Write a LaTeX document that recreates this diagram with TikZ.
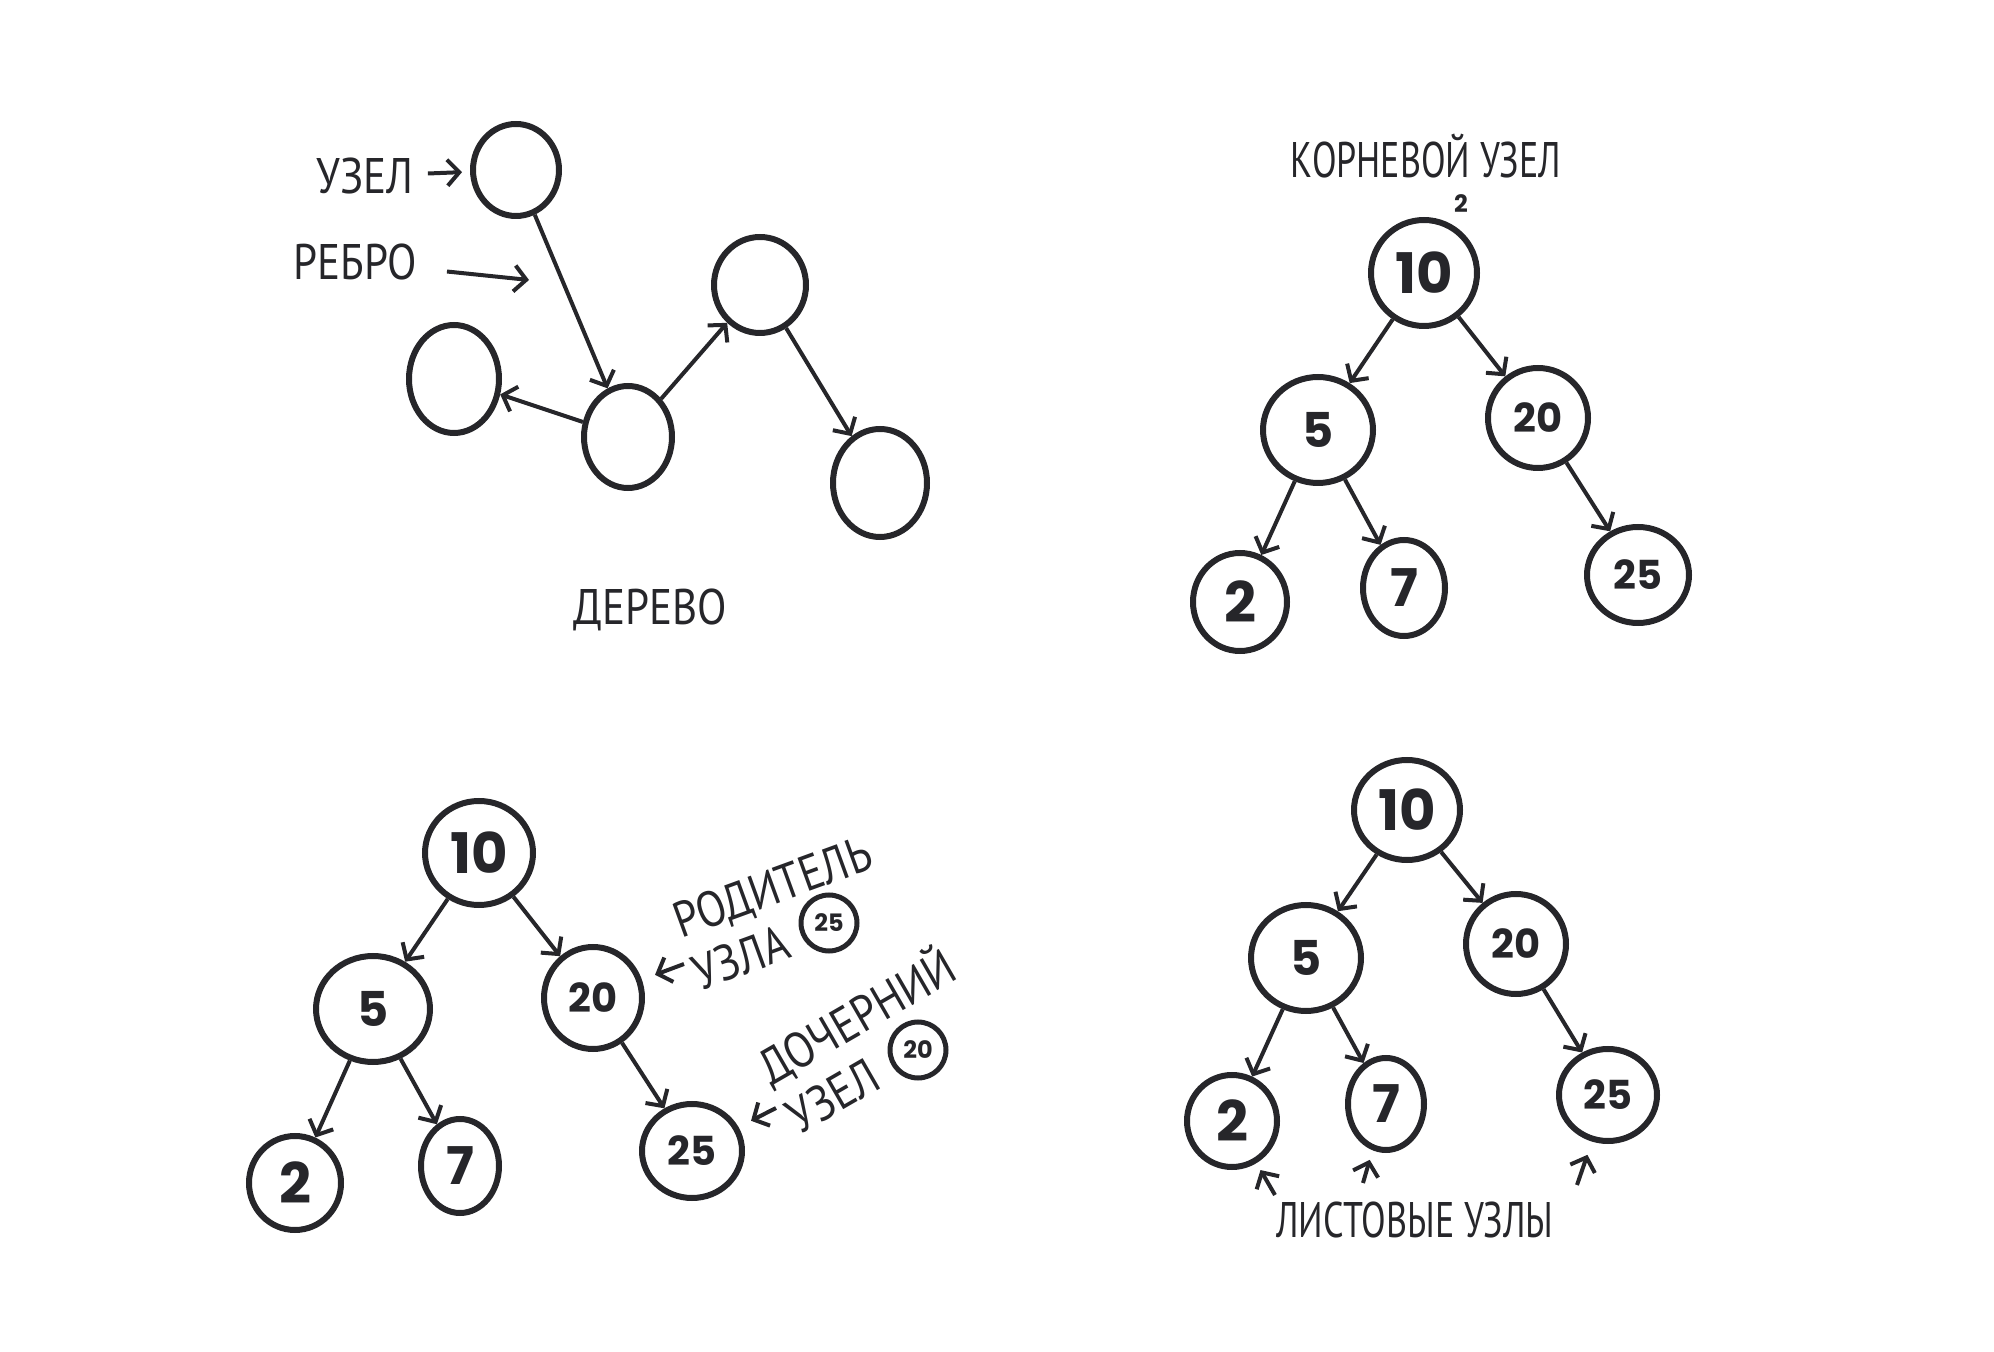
\documentclass[tikz,border=0pt]{standalone}
\usepackage{fontspec}
\setmainfont{PT Sans}[FakeStretch=0.86]
\newfontfamily\narrowfont{PT Sans}[FakeStretch=0.72]
\newfontfamily\digitfont{Poppins}
\usetikzlibrary{arrows.meta,shapes.geometric,positioning}
\definecolor{ink}{RGB}{38,38,42}
\newcommand\numsize[1]{\digitfont\bfseries\fontsize{#1}{#1}\selectfont}
\tikzset{
  nd/.style={ellipse, draw=ink, line width=3pt, inner sep=0pt, text=ink, font=\numsize{24}},
  sz/.style 2 args={minimum width=#1pt, minimum height=#2pt},
  lbl/.style={text=ink, inner sep=0pt, font=\fontsize{25}{28}\selectfont},
  arr/.style={-{Straight Barb[length=6pt,width=13pt]}, draw=ink, line width=2pt},
}
\begin{document}
\begin{tikzpicture}[x=0.5pt,y=-0.5pt]
\useasboundingbox (0,0) rectangle (1994,1352);
% tree
\node[nd,sz={43}{46}] (tA) at (516,170) {};
\node[nd,sz={44}{51}] (tB) at (628,437) {};
\node[nd,sz={45}{54}] (tC) at (454,379) {};
\node[nd,sz={46}{48}] (tD) at (760,285) {};
\node[nd,sz={47}{54}] (tE) at (880,483) {};
\draw[arr] (tA) -- (tB);
\draw[arr] (tB) -- (tC);
\draw[arr] (tB) -- (tD);
\draw[arr] (tD) -- (tE);
\node[lbl] (lUzel) at (365,176) {УЗЕЛ};
\node[lbl] (lRebro) at (355,262) {РЕБРО};
\coordinate (rTip) at (529,280);
\draw[arr, shorten <=7pt, shorten >=4pt] (lUzel) -- (tA);
\draw[arr, shorten <=15pt] (lRebro) -- (rTip);
\node[lbl] (lDerevo) at (650,610) {ДЕРЕВО};
% root node
\node[lbl, font=\narrowfont\fontsize{25}{28}\selectfont] (lRoot) at (1426,156) {КОРНЕВОЙ УЗЕЛ};
\node[lbl, font=\numsize{12}] (lMark) at (1461,204) {2};
\node[nd,sz={53}{53},font=\numsize{28}] (r10) at (1424,273) {10};
\node[nd,sz={55}{53}] (r5) at (1318,430) {5};
\node[nd,sz={50}{50},font=\numsize{20}] (r20) at (1538,418) {20};
\node[nd,sz={47}{49},font=\numsize{28}] (r2) at (1240,602) {2};
\node[nd,sz={41}{48},font=\numsize{26}] (r7) at (1404,588) {7};
\node[nd,sz={51}{48},font=\numsize{20}] (r25) at (1638,575) {25};
\draw[arr] (r10) -- (r5);
\draw[arr] (r10) -- (r20);
\draw[arr] (r5) -- (r2);
\draw[arr] (r5) -- (r7);
\draw[arr] (r20) -- (r25);
% parent / child
\node[nd,sz={54}{52},font=\numsize{28}] (p10) at (479,853) {10};
\node[nd,sz={57}{53}] (p5) at (373,1009) {5};
\node[nd,sz={49}{51},font=\numsize{20}] (p20) at (593,998) {20};
\node[nd,sz={46}{47},font=\numsize{28}] (p2) at (295,1183) {2};
\node[nd,sz={39}{47},font=\numsize{26}] (p7) at (460,1166) {7};
\node[nd,sz={50}{47},font=\numsize{20}] (p25) at (692,1151) {25};
\draw[arr] (p10) -- (p5);
\draw[arr] (p10) -- (p20);
\draw[arr] (p5) -- (p2);
\draw[arr] (p5) -- (p7);
\draw[arr] (p20) -- (p25);
\node[lbl, rotate=20, align=left] (pParent) at (782,913) {РОДИТЕЛЬ\\УЗЛА};
\node[nd,sz={28}{28},line width=2.5pt,font=\numsize{12}] (p25s) at (829,923) {25};
\coordinate (pTail) at (684,964);
\draw[arr, shorten >=7pt] (pTail) -- (p20);
\node[lbl, rotate=30, align=left] (pChild) at (869,1038) {ДОЧЕРНИЙ\\УЗЕЛ};
\node[nd,sz={28}{28},line width=2.5pt,font=\numsize{12}] (c20s) at (918,1050) {20};
\coordinate (cTail) at (776,1108);
\draw[arr, shorten >=7pt] (cTail) -- (p25);
% leaves
\node[nd,sz={53}{50},font=\numsize{28}] (l10) at (1407,810) {10};
\node[nd,sz={55}{53}] (l5) at (1306,958) {5};
\node[nd,sz={50}{50},font=\numsize{20}] (l20) at (1516,944) {20};
\node[nd,sz={45}{46},font=\numsize{28}] (l2) at (1232,1121) {2};
\node[nd,sz={38}{46},font=\numsize{26}] (l7) at (1386,1104) {7};
\node[nd,sz={49}{46},font=\numsize{20}] (l25) at (1608,1095) {25};
\draw[arr] (l10) -- (l5);
\draw[arr] (l10) -- (l20);
\draw[arr] (l5) -- (l2);
\draw[arr] (l5) -- (l7);
\draw[arr] (l20) -- (l25);
\node[lbl, font=\narrowfont\fontsize{25}{28}\selectfont] (lLeaf) at (1415,1220) {ЛИСТОВЫЕ УЗЛЫ};
\coordinate (t2) at (1275,1195);
\coordinate (t7) at (1363,1183);
\coordinate (t25) at (1577,1185);
\draw[arr, shorten >=4pt] (t2) -- (l2);
\draw[arr, shorten >=5pt] (t7) -- (l7);
\draw[arr, shorten >=7pt] (t25) -- (l25);
\end{tikzpicture}
\end{document}
